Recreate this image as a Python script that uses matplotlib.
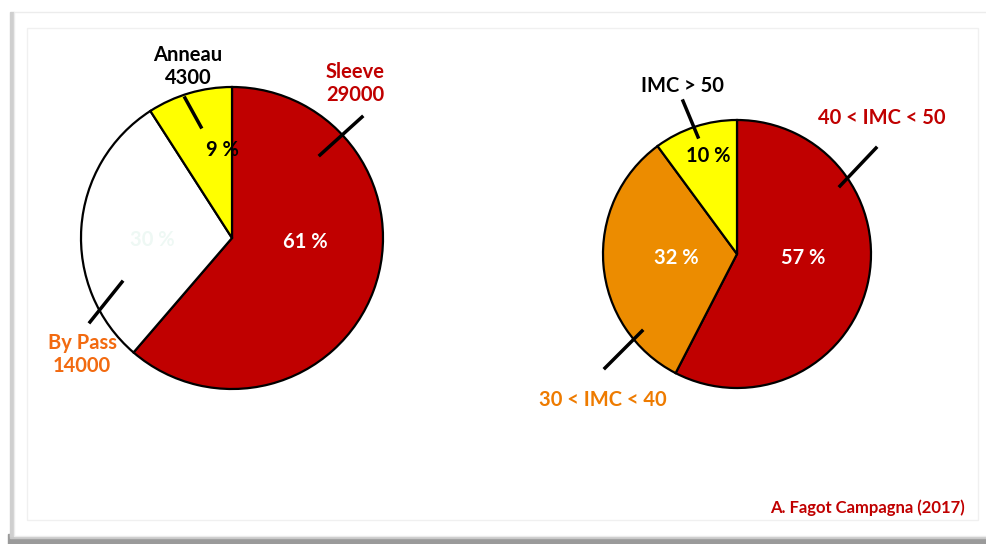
import matplotlib.pyplot as plt
from matplotlib.patches import Rectangle

# data
left_labels = ["Sleeve", "By Pass", "Anneau"]
left_values = [29000, 14000, 4300]
left_colors = ["#C00000", "#FFFFFF", "#FFFF00"]
left_pcts = ["61 %", "30 %", "9 %"]

right_labels = ["40 < IMC < 50", "30 < IMC < 40", "IMC > 50"]
right_values = [57, 32, 10]
right_colors = ["#C00000", "#EC8C00", "#FFFF00"]
right_pcts = ["57 %", "32 %", "10 %"]

W, H = 987, 544
plt.rcParams['font.family'] = ['Lato', 'DejaVu Sans']

fig = plt.figure(figsize=(W / 100, H / 100), dpi=100)
ax = fig.add_axes([0, 0, 1, 1])


def Y(y):
    # pixel row -> data y (origin at bottom)
    return H - y


# frame with shadow
ax.add_patch(Rectangle((8, Y(544)), 979, 10, color="#9a9a9a", zorder=0))
ax.add_patch(Rectangle((10, Y(538)), 977, 4, color="#c8c8c8", zorder=0))
ax.add_patch(Rectangle((10, Y(536)), 4, 524, color="#cfcfcf", zorder=0))
ax.add_patch(Rectangle((14, Y(536)), 973, 524, facecolor="white",
                       edgecolor="#ececec", lw=1.0, zorder=1))
ax.add_patch(Rectangle((27, Y(520)), 951, 492, facecolor="white",
                       edgecolor="#f0f0f0", lw=1.0, zorder=1))

wedge_kw = dict(edgecolor="black", linewidth=1.6)
ax.pie(left_values, colors=left_colors, startangle=90, counterclock=False,
       center=(232, Y(238)), radius=151, wedgeprops=wedge_kw, frame=True)
ax.pie(right_values, colors=right_colors, startangle=90, counterclock=False,
       center=(737, Y(254)), radius=134, wedgeprops=wedge_kw, frame=True)

# leader lines
lines = [((320, 155), (362, 117)), ((185, 98), (201, 127)), ((90, 322), (122, 282)),
         ((683, 101), (698, 137)), ((840, 186), (876, 148)), ((605, 368), (642, 331))]
for (x0, y0), (x1, y1) in lines:
    ax.plot([x0, x1], [Y(y0), Y(y1)], color="black", lw=2.5, zorder=5)

bold = dict(fontweight="bold", fontsize=14.5, ha="center", va="center", zorder=6)

# left pie labels
ax.text(188, Y(55), left_labels[2], color="black", **bold)
ax.text(188, Y(78), "4300", color="black", **bold)
ax.text(355, Y(72), left_labels[0], color="#C00000", **bold)
ax.text(355, Y(95), "29000", color="#C00000", **bold)
ax.text(82, Y(343), left_labels[1], color="#F26A10", **bold)
ax.text(82, Y(366), "14000", color="#F26A10", **bold)
ax.text(222, Y(150), left_pcts[2], color="black", **bold)
ax.text(305, Y(242), left_pcts[0], color="white", **bold)
ax.text(152, Y(240), left_pcts[1], color="#eef8f4", **bold)

# right pie labels
ax.text(682, Y(86), right_labels[2], color="black", **bold)
ax.text(882, Y(118), right_labels[0], color="#C00000", **bold)
ax.text(603, Y(400), right_labels[1], color="#EE7B00", **bold)
ax.text(708, Y(156), right_pcts[2], color="black", **bold)
ax.text(676, Y(258), right_pcts[1], color="white", **bold)
ax.text(803, Y(258), right_pcts[0], color="white", **bold)

ax.text(965, Y(508), "A. Fagot Campagna (2017)", color="#C00000",
        fontweight="bold", fontsize=12, ha="right", va="center", zorder=6)

ax.set_xlim(0, W)
ax.set_ylim(0, H)
ax.set_aspect("auto")
ax.axis("off")

fig.savefig("out.png", dpi=100)
